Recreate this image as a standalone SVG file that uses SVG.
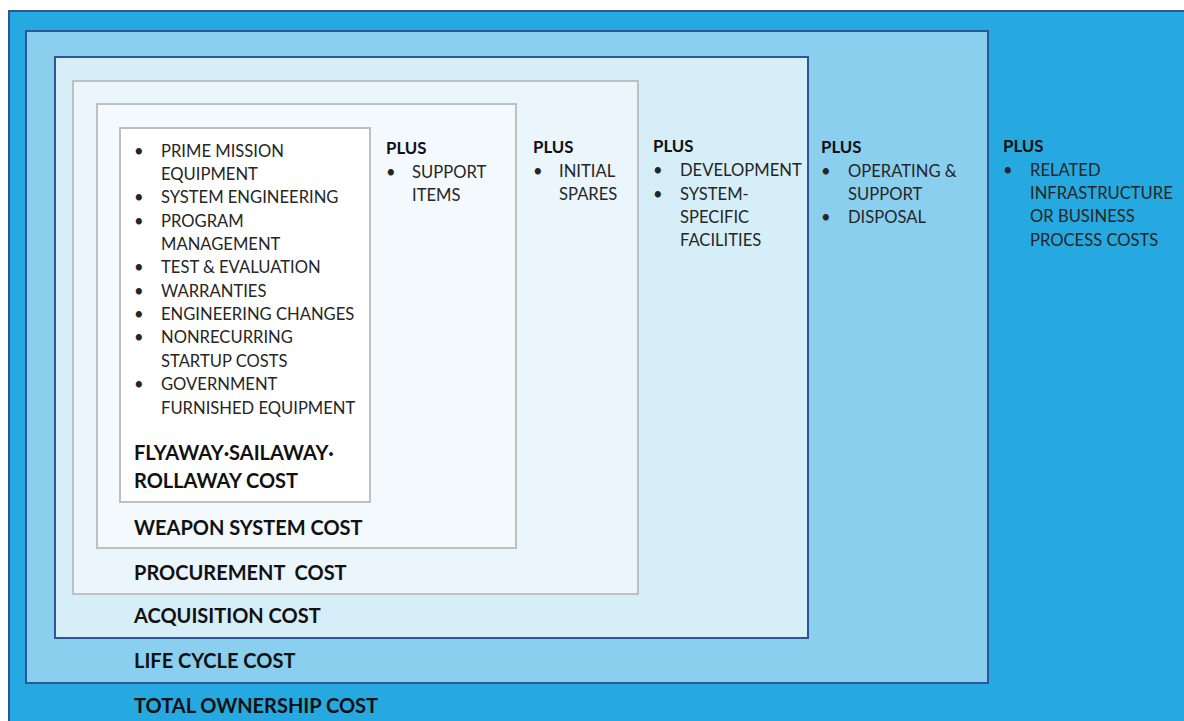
<svg xmlns="http://www.w3.org/2000/svg" width="1184" height="721" viewBox="0 0 1184 721">
<style>
.t{font-family:Lato,"Liberation Sans",sans-serif;font-size:16.6px;fill:#262626}
.p{font-family:Lato,"Liberation Sans",sans-serif;font-size:16.8px;font-weight:bold;fill:#111}
.h{font-family:Lato,"Liberation Sans",sans-serif;font-size:20px;font-weight:bold;fill:#111;white-space:pre}
.blue{stroke:#2F5597;stroke-width:2}
.gray{stroke:#BFBFBF;stroke-width:2}
</style>
<rect width="1184" height="721" fill="#ffffff"/>
<g id="total">
<rect class="blue" x="9" y="11" width="1180" height="715" fill="#25A9E0"/>
<text class="h" x="134" y="713">TOTAL OWNERSHIP COST</text>
<text class="p" x="1003" y="152">PLUS</text>
<text class="t" x="1003" y="176">•</text><text class="t" x="1030" y="176">RELATED</text>
<text class="t" x="1030" y="199">INFRASTRUCTURE</text>
<text class="t" x="1030" y="222">OR BUSINESS</text>
<text class="t" x="1030" y="246">PROCESS COSTS</text>
</g>
<g id="lifecycle">
<rect class="blue" x="26" y="31" width="962" height="652" fill="#8ACFEE"/>
<text class="h" x="134" y="668">LIFE CYCLE COST</text>
<text class="p" x="821" y="153">PLUS</text>
<text class="t" x="821" y="177">•</text><text class="t" x="848" y="177">OPERATING &amp;</text>
<text class="t" x="848" y="200">SUPPORT</text>
<text class="t" x="821" y="223">•</text><text class="t" x="848" y="223">DISPOSAL</text>
</g>
<g id="acquisition">
<rect class="blue" x="55" y="57" width="753" height="581" fill="#D6EEF8"/>
<text class="h" x="134" y="623">ACQUISITION COST</text>
<text class="p" x="653" y="152">PLUS</text>
<text class="t" x="653" y="176">•</text><text class="t" x="680" y="176">DEVELOPMENT</text>
<text class="t" x="653" y="200">•</text><text class="t" x="680" y="200">SYSTEM-</text>
<text class="t" x="680" y="223">SPECIFIC</text>
<text class="t" x="680" y="246">FACILITIES</text>
</g>
<g id="procurement">
<rect class="gray" x="73" y="81" width="565" height="513" fill="#EAF5FC"/>
<text class="h" x="134" y="580" xml:space="preserve">PROCUREMENT  COST</text>
<text class="p" x="533" y="153">PLUS</text>
<text class="t" x="533" y="177">•</text><text class="t" x="559" y="177">INITIAL</text>
<text class="t" x="559" y="200">SPARES</text>
</g>
<g id="weapon">
<rect class="gray" x="97" y="104" width="419" height="444" fill="#F3F9FC"/>
<text class="h" x="134" y="535">WEAPON SYSTEM COST</text>
<text class="p" x="386" y="154">PLUS</text>
<text class="t" x="386" y="178">•</text><text class="t" x="412" y="178">SUPPORT</text>
<text class="t" x="412" y="201">ITEMS</text>
</g>
<g id="flyaway">
<rect class="gray" x="120" y="128" width="250" height="374" fill="#FFFFFF"/>
<text class="t" x="134" y="157">•</text><text class="t" x="161" y="157">PRIME MISSION</text>
<text class="t" x="161" y="180">EQUIPMENT</text>
<text class="t" x="134" y="203">•</text><text class="t" x="161" y="203">SYSTEM ENGINEERING</text>
<text class="t" x="134" y="227">•</text><text class="t" x="161" y="227">PROGRAM</text>
<text class="t" x="161" y="250">MANAGEMENT</text>
<text class="t" x="134" y="273">•</text><text class="t" x="161" y="273">TEST &amp; EVALUATION</text>
<text class="t" x="134" y="297">•</text><text class="t" x="161" y="297">WARRANTIES</text>
<text class="t" x="134" y="320">•</text><text class="t" x="161" y="320">ENGINEERING CHANGES</text>
<text class="t" x="134" y="343">•</text><text class="t" x="161" y="343">NONRECURRING</text>
<text class="t" x="161" y="367">STARTUP COSTS</text>
<text class="t" x="134" y="390">•</text><text class="t" x="161" y="390">GOVERNMENT</text>
<text class="t" x="161" y="414">FURNISHED EQUIPMENT</text>
<text class="h" x="134" y="460">FLYAWAY·SAILAWAY·</text>
<text class="h" x="134" y="488">ROLLAWAY COST</text>
</g>
<g id="connectors"/>
</svg>
